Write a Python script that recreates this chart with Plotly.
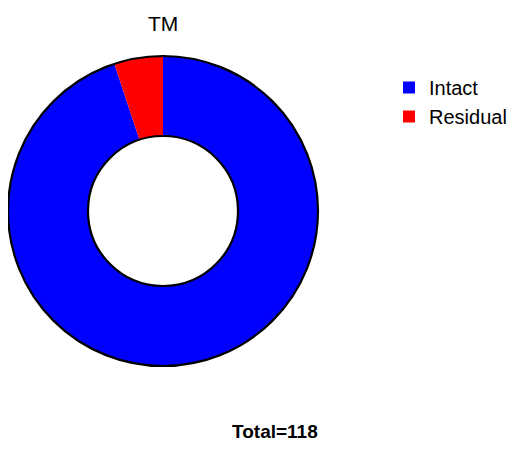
import plotly.graph_objects as go

# data
labels = ["Intact", "Residual"]
counts = [112, 6]
colors = ["#0000FF", "#FF0000"]
title_text = "TM"

W, H = 528, 458
OFF = 8  # page body margin
cx, cy, r_out, r_in = 163, 211, 155, 75

def px_x(v):
    return (v - OFF) / W

def px_y(v):
    return 1 - (v - OFF) / H

fig = go.Figure()
fig.add_trace(go.Pie(
    labels=labels,
    values=counts,
    marker=dict(colors=colors, line=dict(width=0)),
    hole=r_in / r_out,
    sort=False,
    direction="clockwise",
    rotation=0,
    textinfo="none",
    hoverinfo="label+value",
    domain=dict(x=[px_x(cx - r_out), px_x(cx + r_out)],
                y=[px_y(cy + r_out), px_y(cy - r_out)]),
))

# outline rings (outer and inner edge only)
for r in (r_out, r_in):
    fig.add_shape(type="circle", xref="paper", yref="paper",
                  x0=px_x(cx - r), x1=px_x(cx + r),
                  y0=px_y(cy + r), y1=px_y(cy - r),
                  line=dict(color="black", width=2.2))

fig.add_annotation(text=title_text, xref="paper", yref="paper",
                   x=px_x(cx), y=px_y(24), showarrow=False,
                   xanchor="center", yanchor="middle",
                   font=dict(family="Arial, Liberation Sans", size=21, color="black"))
fig.add_annotation(text="<b>Total=%d</b>" % sum(counts), xref="paper", yref="paper",
                   x=px_x(275), y=px_y(431), showarrow=False,
                   xanchor="center", yanchor="middle",
                   font=dict(family="Arial, Liberation Sans", size=19, color="black"))

fig.update_layout(
    width=W, height=H,
    margin=dict(l=0, r=0, t=0, b=0),
    paper_bgcolor="white",
    plot_bgcolor="white",
    legend=dict(x=px_x(389), y=px_y(68), xanchor="left", yanchor="top",
                font=dict(family="Arial, Liberation Sans", size=20, color="black"),
                tracegroupgap=0, itemclick=False),
)

fig.write_html("out.html")
